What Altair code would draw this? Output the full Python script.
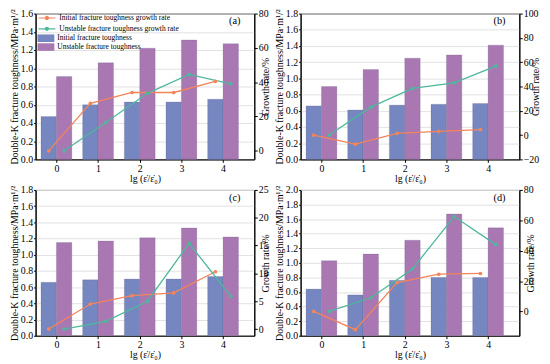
import altair as alt
import pandas as pd

FONT = "Liberation Serif"
W, H = 222, 148

cats = [0, 1, 2, 3, 4]
bar_series = ["Initial fracture toughness", "Unstable fracture toughness"]
line_series = ["Initial fracture toughness growth rate", "Unstable fracture toughness growth rate"]

a_init = [0.47, 0.60, 0.63, 0.63, 0.66]
a_unst = [0.91, 1.06, 1.22, 1.31, 1.27]
a_init_rate = [0, 27.7, 34, 34, 40.5]
a_unst_rate = [0, 16.5, 33.5, 44.5, 39]

b_init = [0.66, 0.61, 0.67, 0.68, 0.69]
b_unst = [0.90, 1.11, 1.25, 1.29, 1.41]
b_init_rate = [0, -7.5, 1.5, 3, 4.5]
b_unst_rate = [0, 23, 38.5, 43, 56.8]

c_init = [0.66, 0.69, 0.70, 0.70, 0.73]
c_unst = [1.15, 1.17, 1.21, 1.33, 1.22]
c_init_rate = [0, 4.5, 6, 6.5, 10.3]
c_unst_rate = [0, 1.4, 5, 15.4, 5.9]

d_init = [0.64, 0.56, 0.76, 0.80, 0.80]
d_unst = [1.03, 1.12, 1.31, 1.67, 1.48]
d_init_rate = [0, -12, 19, 24.5, 25]
d_unst_rate = [0, 9, 28, 62.5, 44]

BLUE = "#7686c0"
PURPLE = "#a977b2"
ORANGE = "#f4845a"
GREEN = "#4db89c"

XTITLE = "lg (\u03b5\u0307/\u03b5\u0307\u2080)"
YTITLE = "Double-K fracture toughness/MPa\u00b7m\u00b9/\u00b2"
RTITLE = "Growth rate/%"

OFF = 0.185


def panel(init, unst, init_rate, unst_rate, ymax, rdom, rticks, label):
    bars = pd.DataFrame({
        "cat": cats * 2,
        "series": [bar_series[0]] * 5 + [bar_series[1]] * 5,
        "val": init + unst,
    })
    lines = pd.DataFrame({
        "cat": cats * 2,
        "series": [line_series[0]] * 5 + [line_series[1]] * 5,
        "rate": init_rate + unst_rate,
    })
    yvals = [round(i * 0.2, 1) for i in range(int(round(ymax / 0.2)) + 1)]
    xscale = alt.Scale(domain=[-0.5, 4.75], nice=False, zero=False)
    xaxis = alt.Axis(values=cats, format="d", title=XTITLE, grid=False,
                     labelFontSize=10, titleFontSize=10, tickSize=3,
                     labelPadding=1, titlePadding=0)
    calc_b = f"datum.cat + (datum.series == '{bar_series[0]}' ? -{OFF} : {OFF})"
    calc_l = f"datum.cat + (datum.series == '{line_series[0]}' ? -{OFF} : {OFF})"

    bar_layer = alt.Chart(bars).transform_calculate(
        xc=calc_b
    ).transform_calculate(
        x1=f"datum.xc - {OFF}", x2=f"datum.xc + {OFF}"
    ).mark_rect(strokeWidth=0.4, stroke="#555577", strokeOpacity=0.5).encode(
        x=alt.X("x1:Q", scale=xscale, axis=xaxis),
        x2="x2:Q",
        y=alt.Y("val:Q", scale=alt.Scale(domain=[0, ymax], nice=False),
                axis=alt.Axis(values=yvals, format=".1f", title=YTITLE, grid=True,
                              gridColor="#e2e2e2", labelFontSize=10, titleFontSize=10,
                              tickSize=2, labelPadding=1, titlePadding=1)),
        y2=alt.datum(0),
        fill=alt.Fill("series:N", scale=alt.Scale(domain=bar_series, range=[BLUE, PURPLE]),
                      legend=alt.Legend(title=None, orient="none", legendX=6, legendY=20.5,
                                        symbolType="M-1.9,-0.85H1.9V0.85H-1.9Z", symbolSize=81,
                                        symbolStrokeWidth=0, labelOffset=7, rowPadding=0,
                                        labelFont=FONT, labelFontSize=7.6, padding=0)),
    )

    line_base = alt.Chart(lines).transform_calculate(xc=calc_l)
    yr = alt.Y("rate:Q", scale=alt.Scale(domain=rdom, nice=False, zero=False),
               axis=alt.Axis(orient="right", values=rticks, title=RTITLE, grid=False,
                             labelFontSize=10, titleFontSize=10, tickSize=3,
                             labelPadding=1, titlePadding=2, titleAngle=270))
    col = alt.Color("series:N", scale=alt.Scale(domain=line_series, range=[ORANGE, GREEN]),
                    legend=alt.Legend(title=None, orient="none", legendX=6, legendY=-1,
                                      symbolType="M-1.9,0H1.9M-0.35,0A0.35,0.35,0,1,1,0.35,0A0.35,0.35,0,1,1,-0.35,0",
                                      symbolSize=81, symbolStrokeWidth=1.2, labelOffset=7,
                                      rowPadding=1, labelFont=FONT, labelFontSize=7.6, padding=0))
    line_layer = line_base.mark_line(strokeWidth=1.3).encode(
        x=alt.X("xc:Q", scale=xscale, axis=xaxis), y=yr, color=col
    )
    pt_layer = line_base.mark_point(filled=True, size=14, opacity=1).encode(
        x=alt.X("xc:Q", scale=xscale, axis=xaxis), y=yr, color=col
    )
    txt = alt.Chart(pd.DataFrame({"t": [label]})).mark_text(
        font=FONT, fontSize=10.5, align="right", baseline="middle"
    ).encode(text="t:N", x=alt.value(W - 14), y=alt.value(8))

    right = alt.layer(line_layer, pt_layer, txt)
    return alt.layer(bar_layer, right).resolve_scale(y="independent").properties(width=W, height=H)


pa = panel(a_init, a_unst, a_init_rate, a_unst_rate, 1.6, [-5, 80], [0, 20, 40, 60, 80], "(a)")
pb = panel(b_init, b_unst, b_init_rate, b_unst_rate, 1.8, [-20, 100], [-20, 0, 20, 40, 60, 80, 100], "(b)")
pc = panel(c_init, c_unst, c_init_rate, c_unst_rate, 1.8, [-1.2, 25], [0, 5, 10, 15, 20, 25], "(c)")
pd_ = panel(d_init, d_unst, d_init_rate, d_unst_rate, 2.0, [-16, 80], [0, 20, 40, 60, 80], "(d)")

chart = alt.vconcat(
    alt.hconcat(pa, pb, spacing=2),
    alt.hconcat(pc, pd_, spacing=2),
    spacing=0,
).configure(
    padding={"left": 0, "top": -3, "right": 0, "bottom": 0},
    font=FONT,
).configure_view(
    stroke="black", strokeWidth=1
).configure_axis(
    labelFont=FONT, titleFont=FONT, labelColor="black", titleColor="black",
    domainColor="black", tickColor="black", titleFontWeight="normal"
).configure_legend(
    labelFont=FONT, labelColor="black"
)

chart.save("out.html", embed_options={"renderer": "svg", "actions": False})
